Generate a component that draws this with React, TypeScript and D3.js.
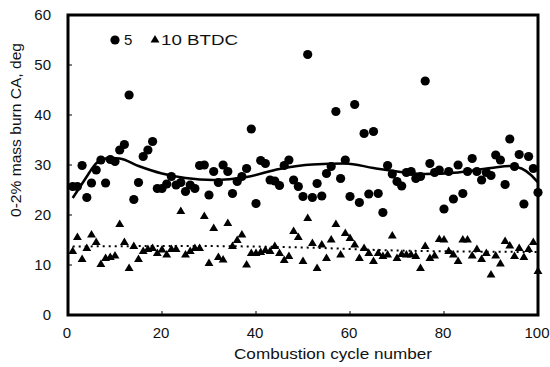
import React from "react";
import * as d3 from "d3";

const cycles: number[] = d3.range(1, 101);

const btdc5: number[] = [
  25.7, 25.7, 29.9, 23.5, 26.4, 29, 31, 26.4, 31.1, 30.7,
  33, 34.1, 44, 23.1, 26.5, 31.7, 33, 34.7, 25.3, 25.3,
  26.2, 27.7, 26, 26.5, 24.7, 26, 25.3, 29.9, 30, 24,
  28.7, 26.5, 30, 28.7, 24.3, 26.7, 27.7, 29.3, 37.2, 22.3,
  30.9, 30.3, 27, 26.8, 25.9, 29.9, 31, 27, 25.7, 23.7,
  52.1, 23.5, 26.3, 23.8, 28.3, 29.7, 40.7, 27.3, 31, 23.7,
  42.1, 22.5, 36.3, 24.2, 36.7, 24.3, 20.5, 29.9, 28.2, 26.7,
  25.8, 28.5, 28.7, 27.3, 27.7, 46.8, 30.3, 28.5, 29, 21.2,
  28.7, 23.2, 30, 24.3, 28.7, 31.3, 28.7, 27, 28.5, 27.9,
  32, 31, 26.1, 35.2, 29.7, 32.1, 22.2, 31.7, 29.3, 24.5,
];

const btdc10: number[] = [
  12.7, 15.5, 11.1, 13.3, 16, 14.5, 10.1, 11.3, 11.5, 11.8,
  18.1, 14.5, 9.3, 13.7, 11.1, 12.7, 13.1, 13.3, 12.3, 13,
  12, 13.1, 13.1, 20.7, 12, 12.7, 13.3, 13.3, 19.7, 10.3,
  17.3, 11.5, 11, 18.3, 13.7, 14.9, 16, 10, 12.3, 12.3,
  12.5, 12.9, 12.7, 13.7, 12.3, 10.9, 11.7, 16.7, 15.5, 10.7,
  19.3, 14.3, 9.3, 14, 11.3, 15, 18.1, 12, 16.3, 15.3,
  14, 11.3, 13.3, 12.3, 10.7, 12.3, 11.7, 12, 15.8, 11.3,
  12.1, 12, 12, 11.7, 9.3, 13.7, 11.3, 11.8, 15.1, 15,
  12.7, 12, 10.7, 15, 15, 11.8, 13.1, 11.1, 12.3, 8,
  11.8, 10.2, 14.7, 13.8, 11.7, 13.3, 11.5, 13.1, 14.5, 8.7,
];

// trend lines
const trend5X: number[] = [1, 4, 5.5, 7, 9, 11, 15, 20, 25, 31, 38, 45, 52, 59, 65, 70, 76, 83, 90, 94, 96.5, 98.5, 100];
const trend5Y: number[] = [23.4, 27.7, 29.8, 31, 31.4, 31.3, 29.8, 28.3, 27.4, 27, 27.6, 29.2, 30.1, 30.3, 29.4, 28.7, 28.2, 28.5, 29.4, 29.8, 29.3, 28, 26.5];
const trend10X: number[] = [1, 25, 50, 70, 100];
const trend10Y: number[] = [13.7, 13.8, 13.5, 12.9, 12.6];

const xTicks: number[] = [0, 20, 40, 60, 80, 100];
const yTicks: number[] = [0, 10, 20, 30, 40, 50, 60];

const xTitle = "Combustion cycle number";
const yTitle = "0-2% mass burn CA, deg";
const legendLabels: string[] = ["5", "10 BTDC"];

const W = 550;
const H = 367;
const FONT = "'Liberation Sans', Arial, sans-serif";

export default function App() {
  const x = d3.scaleLinear().domain([0, 100]).range([68, 538]);
  const y = d3.scaleLinear().domain([0, 60]).range([315, 15]);

  const line = d3
    .line<[number, number]>()
    .x((d) => x(d[0]))
    .y((d) => y(d[1]))
    .curve(d3.curveMonotoneX);

  const t5: [number, number][] = trend5X.map((v, i) => [v, trend5Y[i]]);
  const t10: [number, number][] = trend10X.map((v, i) => [v, trend10Y[i]]);

  const tri = d3.symbol().type(d3.symbolTriangle).size(34)() as string;

  const [x0, x1] = x.range();
  const [yb, yt] = y.range();

  return (
    <svg width={W} height={H} style={{ position: "absolute", left: 0, top: 0 }} fontFamily={FONT}>
      <rect x={0} y={0} width={W} height={H} fill="#fff" />

      {/* ticks inside */}
      {yTicks.filter((t) => t > 0 && t < 60).map((t) => (
        <line key={"yt" + t} x1={x0} x2={x0 + 4} y1={y(t)} y2={y(t)} stroke="#000" strokeWidth={1} />
      ))}
      {xTicks.filter((t) => t > 0 && t < 100).map((t) => (
        <line key={"xt" + t} x1={x(t)} x2={x(t)} y1={yb} y2={yb - 4} stroke="#000" strokeWidth={1} />
      ))}

      {/* tick labels */}
      {yTicks.map((t) => (
        <text key={"yl" + t} x={51} y={y(t)} dy="0.35em" textAnchor="end" fontSize={15} fill="#111">
          {t}
        </text>
      ))}
      {xTicks.map((t) => (
        <text key={"xl" + t} x={x(t) - 1} y={333} dy="0.35em" textAnchor="middle" fontSize={15} fill="#111">
          {t}
        </text>
      ))}

      {/* axis titles */}
      <text
        x={333}
        y={354}
        dy="0.35em"
        textAnchor="middle"
        fontSize={15}
        fill="#111"
        textLength={198}
        lengthAdjust="spacingAndGlyphs"
      >
        {xTitle}
      </text>
      <text
        transform={`translate(16, 130) rotate(-90)`}
        dy="0.35em"
        textAnchor="middle"
        fontSize={15}
        fill="#111"
        textLength={174}
        lengthAdjust="spacingAndGlyphs"
      >
        {yTitle}
      </text>

      {/* trend lines */}
      <path d={line(t5) as string} fill="none" stroke="#000" strokeWidth={2.5} />
      <path d={line(t10) as string} fill="none" stroke="#000" strokeWidth={2} strokeDasharray="2 4" />

      {/* data */}
      {cycles.map((c, i) => (
        <circle key={"c" + c} cx={x(c)} cy={y(btdc5[i])} r={4.6} fill="#000" />
      ))}
      {cycles.map((c, i) => (
        <path key={"t" + c} d={tri} transform={`translate(${x(c)},${y(btdc10[i])})`} fill="#000" />
      ))}

      {/* frame */}
      <rect x={x0} y={yt} width={x1 - x0} height={yb - yt} fill="none" stroke="#000" strokeWidth={3} />

      {/* legend */}
      <circle cx={115} cy={40} r={4.6} fill="#000" />
      <text x={124} y={40} dy="0.35em" fontSize={15} fill="#111">
        {legendLabels[0]}
      </text>
      <path d={tri} transform="translate(155,40)" fill="#000" />
      <text x={161} y={40} dy="0.35em" fontSize={15} fill="#111" textLength={77} lengthAdjust="spacingAndGlyphs">
        {legendLabels[1]}
      </text>
    </svg>
  );
}
